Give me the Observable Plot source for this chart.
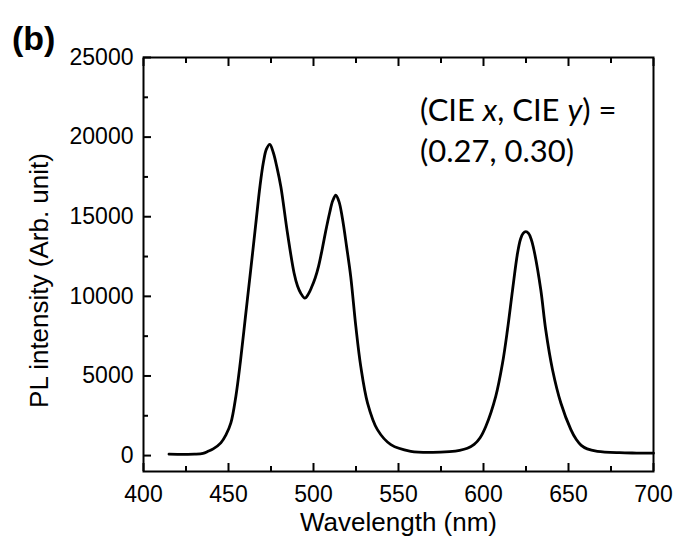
<!DOCTYPE html>
<html>
<head>
<meta charset="utf-8">
<script src="https://cdn.jsdelivr.net/npm/d3@7"></script>
<script src="https://cdn.jsdelivr.net/npm/@observablehq/plot@0.6"></script>
<style>
  body { margin: 0; background: #fff; }
  #wrap { position: relative; width: 679px; height: 541px; font-family: "Liberation Sans", Arial, sans-serif; color: #000; }
  #panel { position: absolute; z-index: 2; left: 12px; top: 21px; font-weight: bold; font-size: 34px; line-height: 1; }
  #note { position: absolute; z-index: 2; left: 420px; top: 89px; font-family: Lato, "Open Sans", sans-serif; font-size: 31px; line-height: 41px; white-space: nowrap; }
</style>
</head>
<body>
<div id="wrap">
  <div id="chart"></div>
  <div id="panel">(b)</div>
  <div id="note">(CIE <i>x</i>, CIE <i>y</i>) =<br>(0.27, 0.30)</div>
</div>
<script>
// Spectrum
const wavelength = [415, 420, 425, 430, 435, 438, 441, 445.5, 448.5, 451.4, 454.3, 457, 460, 463, 466, 468.5, 470.5, 472.3, 474.3, 476.3, 478.5, 480.8, 484.7, 488.6, 490.6, 492.5, 494.9, 497, 499, 501, 503, 505, 507.2, 509.5, 511.3, 513.1, 515, 517, 519.5, 521.9, 524.9, 527.8, 531.8, 537.6, 545.5, 557.2, 570, 580, 586, 590.5, 594.5, 598, 601.4, 607.2, 611.2, 614.1, 617.1, 620, 621.8, 623.3, 624.9, 626.5, 628, 629.8, 633.7, 636.6, 640.6, 645.5, 651.4, 654.5, 657.5, 661, 667, 680, 690, 700];
const intensity  = [90, 80, 80, 90, 140, 270, 420, 800, 1300, 2050, 3700, 5900, 8750, 11600, 14500, 16900, 18400, 19250, 19550, 19050, 18100, 16880, 13960, 11450, 10650, 10200, 9890, 10150, 10600, 11150, 11900, 12900, 14100, 15250, 16000, 16350, 15950, 14900, 13100, 11240, 8110, 5600, 3300, 1630, 690, 270, 200, 250, 330, 460, 700, 1120, 1840, 3720, 5810, 7900, 10410, 12700, 13600, 13950, 14060, 13950, 13600, 12850, 10410, 7900, 5390, 3300, 1630, 1020, 640, 420, 270, 180, 160, 150];

const xMajor = [400, 450, 500, 550, 600, 650, 700];
const xMinor = [425, 475, 525, 575, 625, 675];
const yMajor = [0, 5000, 10000, 15000, 20000, 25000];
const yMinor = [2500, 7500, 12500, 17500, 22500];
const xTitle = "Wavelength (nm)";
const yTitle = "PL intensity (Arb. unit)";

const data = wavelength.map((w, i) => ({w, v: intensity[i]}));
const fmt = d => String(d);

const tickOpts = {fill: "none", label: null, strokeWidth: 2, tickFormat: fmt};

const chart = Plot.plot({
  width: 679,
  height: 541,
  marginLeft: 143,
  marginRight: 26,
  marginTop: 57,
  marginBottom: 70,
  x: {domain: [400, 700]},
  y: {domain: [-1000, 25000]},
  style: {fontFamily: "'Liberation Sans', Arial, sans-serif", fontSize: "23px", color: "#000", background: "#fff", overflow: "visible"},
  marks: [
    Plot.axisX({ticks: xMajor, tickSize: 0, tickPadding: 14, label: null, tickFormat: fmt, fontSize: 23}),
    Plot.axisY({ticks: yMajor, tickSize: 0, tickPadding: 10, label: null, tickFormat: fmt, fontSize: 23}),
    Plot.axisX({...tickOpts, ticks: xMajor, tickSize: -8}),
    Plot.axisX({...tickOpts, ticks: xMinor, tickSize: -5}),
    Plot.axisX({...tickOpts, anchor: "top", ticks: xMajor, tickSize: -8}),
    Plot.axisX({...tickOpts, anchor: "top", ticks: xMinor, tickSize: -5}),
    Plot.axisY({...tickOpts, ticks: yMajor, tickSize: -8}),
    Plot.axisY({...tickOpts, ticks: yMinor, tickSize: -5}),
    Plot.frame({strokeWidth: 2}),
    Plot.line(data, {x: "w", y: "v", stroke: "#000", strokeWidth: 2.8, curve: "catmull-rom"}),
    Plot.text([xTitle], {frameAnchor: "bottom", textAnchor: "middle", dy: 51, fontSize: 26, lineAnchor: "middle"}),
    Plot.text([yTitle], {frameAnchor: "left", textAnchor: "middle", rotate: -90, dx: -104, dy: 16, fontSize: 26, lineAnchor: "middle"})
  ]
});
document.getElementById("chart").appendChild(chart);
</script>
</body>
</html>
